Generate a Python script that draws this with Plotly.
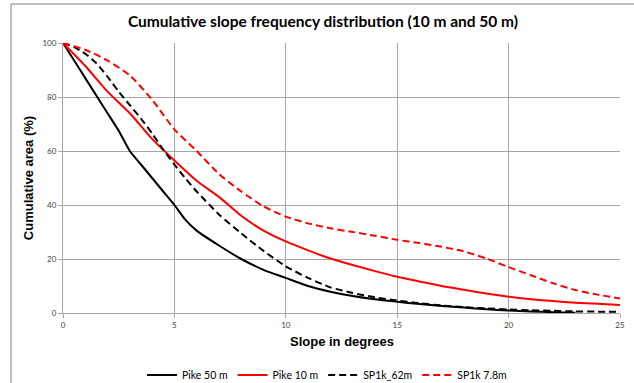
import plotly.graph_objects as go

# ---- data ----
pike50_x = [0, 0.5, 1, 1.5, 2, 2.5, 3, 3.5, 4, 4.5, 5, 5.5, 6, 7, 8, 9, 10, 11, 12, 13, 14, 15, 16, 17, 18, 19, 20, 21, 22, 23]
pike50_y = [100, 93.5, 87, 80.5, 74, 67.5, 60, 55, 50, 45, 40, 34.5, 30.5, 25, 20, 16, 13, 10, 7.9, 6.3, 5.1, 4.2, 3.3, 2.6, 2.0, 1.4, 0.9, 0.6, 0.3, 0.1]

pike10_x = [0, 1, 2, 3, 4, 5, 6, 7, 8, 9, 10, 11, 12, 13, 14, 15, 16, 17, 18, 19, 20, 21, 22, 23, 24, 25]
pike10_y = [100, 91.5, 82, 74, 64.5, 56.5, 49, 43, 36, 30.5, 26.5, 23.2, 20.2, 17.8, 15.5, 13.4, 11.7, 10, 8.6, 7.2, 6.0, 5.1, 4.4, 3.8, 3.4, 3.0]

sp62_x = [0, 0.5, 1, 1.5, 2, 2.5, 3, 3.5, 4, 4.5, 5, 5.5, 6, 7, 8, 9, 10, 11, 12, 13, 14, 15, 16, 17, 18, 19, 20, 21, 22, 23, 24, 25]
sp62_y = [100, 98.5, 96, 92.5, 87.5, 82, 77, 72, 66.5, 60.5, 55, 49.8, 45, 36.5, 29.5, 23, 17.3, 13, 9.5, 7.4, 5.8, 4.6, 3.6, 2.8, 2.2, 1.7, 1.3, 1.0, 0.8, 0.6, 0.5, 0.4]

sp78_x = [0, 1, 2, 3, 4, 5, 6, 7, 8, 9, 10, 11, 12, 13, 14, 15, 16, 17, 18, 19, 20, 21, 22, 23, 24, 25]
sp78_y = [100, 97.5, 93.5, 88, 79, 68, 60, 51.5, 45, 39.5, 35.7, 33.2, 31.4, 30, 28.6, 27.1, 25.9, 24.5, 22.8, 20.2, 17, 14, 11, 8.5, 6.8, 5.4]

x_ticks = [0, 5, 10, 15, 20, 25]
y_ticks = [0, 20, 40, 60, 80, 100]

title_text = "Cumulative slope frequency distribution (10 m and 50 m)"
x_title = "Slope in degrees"
y_title = "Cumulative area (%)"

# ---- figure ----
W, H = 634, 383
L, R, T, B = 63, 14, 43, 70
pw = W - L - R
ph = H - T - B

fig = go.Figure()
series = [
    ("Pike 50 m", pike50_x, pike50_y, "black", "solid"),
    ("Pike 10 m", pike10_x, pike10_y, "#ff0000", "solid"),
    ("SP1k_62m", sp62_x, sp62_y, "black", "7px,4px"),
    ("SP1k 7.8m", sp78_x, sp78_y, "#ff0000", "7px,4px"),
]
for name, xs, ys, col, dash in series:
    fig.add_trace(go.Scatter(
        x=xs, y=ys, mode="lines", name=name,
        line=dict(color=col, width=2, dash=dash, shape="spline", smoothing=0.6),
    ))

grid = "#a6a6a6"
axis_title_font = dict(family="Liberation Sans, Arial, sans-serif", size=13, color="black")
fig.update_layout(
    width=W, height=H,
    margin=dict(l=L, r=R, t=T, b=B, autoexpand=False),
    paper_bgcolor="white", plot_bgcolor="white",
    font=dict(family="Lato, Arial, sans-serif", color="#404040"),
    title=dict(text="<b>" + title_text + "</b>", x=323 / W, xanchor="center",
               y=1 - 22 / H, yanchor="middle",
               font=dict(family="Lato, sans-serif", size=15.5, color="black")),
    xaxis=dict(range=[0, 25], tickvals=x_ticks, ticktext=[str(v) for v in x_ticks],
               showgrid=True, gridcolor=grid, gridwidth=1,
               showline=True, linecolor=grid, linewidth=1,
               ticks="outside", ticklen=4, tickcolor=grid,
               tickfont=dict(size=8, color="#404040"),
               zeroline=False),
    yaxis=dict(range=[0, 100], tickvals=y_ticks, ticktext=[str(v) for v in y_ticks],
               showgrid=True, gridcolor=grid, gridwidth=1,
               showline=True, linecolor=grid, linewidth=1,
               ticks="outside", ticklen=4, tickcolor=grid,
               tickfont=dict(size=8, color="#404040"),
               zeroline=False,
               title=dict(text="<b>" + y_title + "</b>", standoff=5, font=axis_title_font)),
    legend=dict(orientation="h", x=(327 - L) / pw, xanchor="center",
                y=(H - B - 375) / ph, yanchor="middle",
                font=dict(family="Lato, sans-serif", size=10.5, color="black"),
                itemwidth=30, tracegroupgap=0, bgcolor="rgba(0,0,0,0)"),
    showlegend=True,
)

# x-axis title as annotation (exact placement)
fig.add_annotation(text="<b>" + x_title + "</b>", xref="paper", yref="paper",
                   x=0.5, y=(H - B - 341) / ph, xanchor="center", yanchor="middle",
                   showarrow=False, font=axis_title_font)

# outer chart frame
fig.add_shape(type="rect", xref="paper", yref="paper",
              x0=(11 - L) / pw, x1=(W + 20 - L) / pw,
              y0=(H - B - (H + 20)) / ph, y1=(H - B - 4) / ph,
              line=dict(color="#808080", width=1), fillcolor="rgba(0,0,0,0)", layer="below")

fig.write_html("out.html")
